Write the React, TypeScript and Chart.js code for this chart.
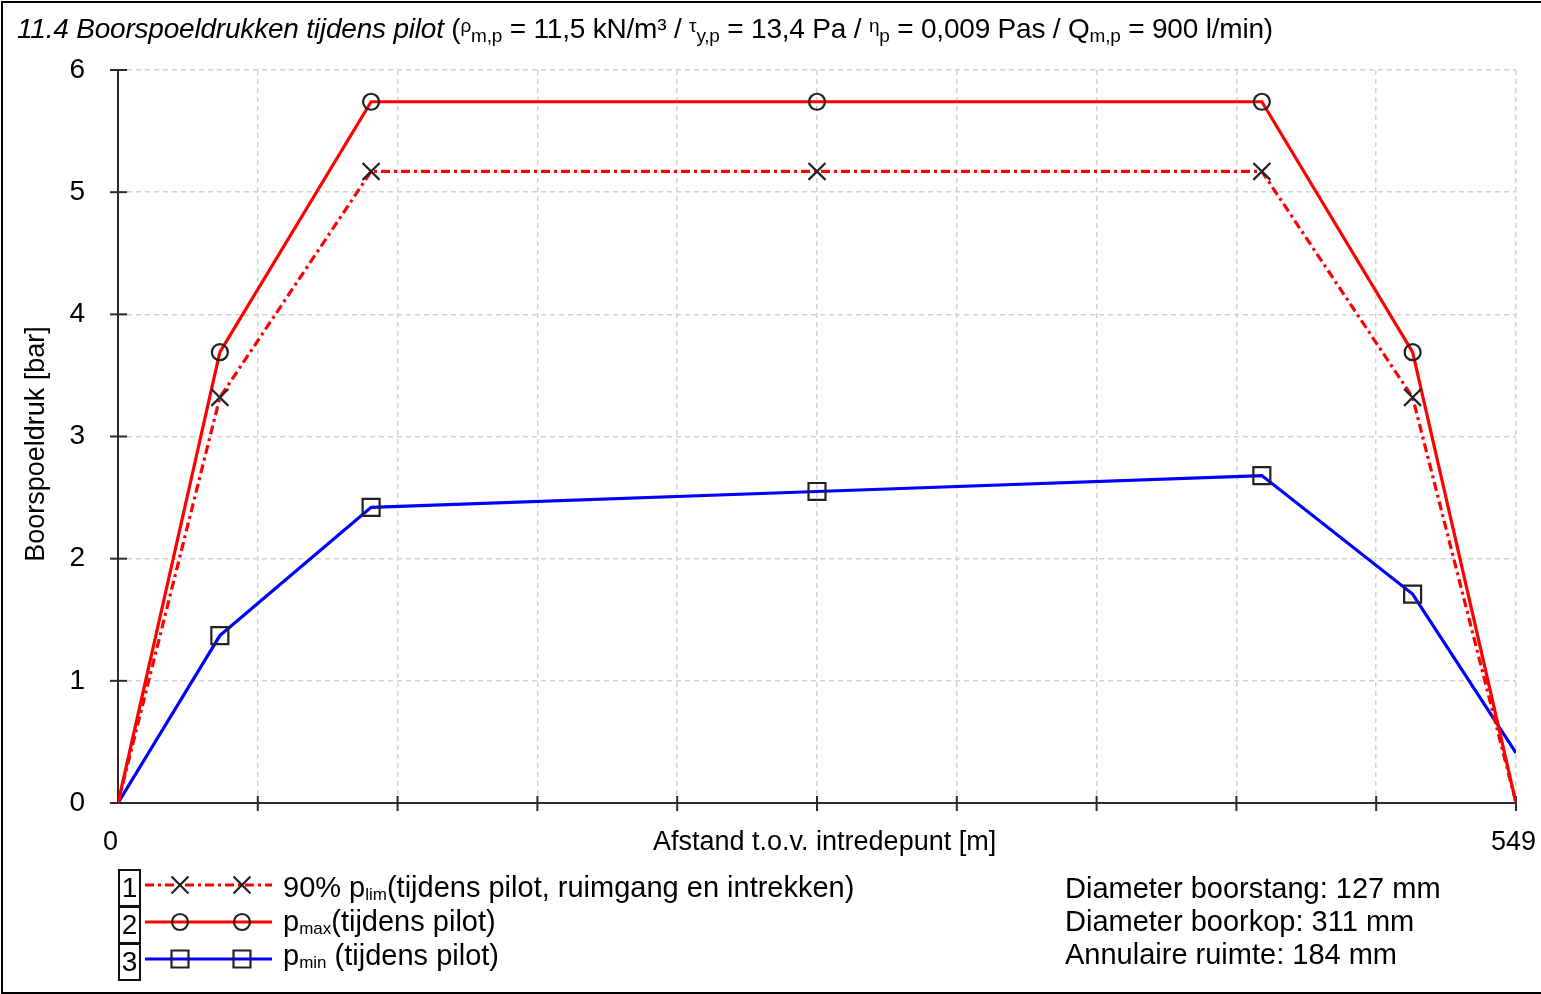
import React, { useEffect, useRef } from 'react';
import { Chart, registerables } from 'chart.js';

Chart.register(...registerables);

// ---- data ----
const distances = [0, 40, 99.4, 274.5, 449.2, 508.4, 549];
const pLim90 = [0, 3.32, 5.17, 5.17, 5.17, 3.32, 0];
const pMax = [0, 3.69, 5.74, 5.74, 5.74, 3.69, 0];
const pMin = [0, 1.37, 2.42, 2.55, 2.68, 1.71, 0.41];
const xMin = 0;
const xMax = 549;
const xGridDivisions = 10;
const yMin = 0;
const yMax = 6;
const xTickLabels = ['0', '549'];
const xAxisTitle = 'Afstand t.o.v. intredepunt [m]';
const yAxisTitle = 'Boorspoeldruk [bar]';
const infoLines = ['Diameter boorstang: 127 mm', 'Diameter boorkop: 311 mm', 'Annulaire ruimte: 184 mm'];

const FONT = '"Liberation Sans", Arial, Helvetica, sans-serif';
const RED = '#ff0000';
const BLUE = '#0000ff';
const MARK = '#222222';
const DASHDOT = [9, 4, 3, 4];

const markerRadii = (r: number) => distances.map((_, i) => (i === 0 || i === distances.length - 1 ? 0 : r));

const legendSamples = [
  { y: 885, color: RED, dash: DASHDOT, style: 'crossRot', r: 12 },
  { y: 922, color: RED, dash: [] as number[], style: 'circle', r: 8 },
  { y: 959, color: BLUE, dash: [] as number[], style: 'rect', r: 12 },
];

const axesPlugin = {
  id: 'customAxes',
  beforeDatasetsDraw(chart: any) {
    const { ctx, chartArea, scales } = chart;
    const x = scales.x;
    const y = scales.y;
    ctx.save();
    ctx.strokeStyle = '#2b2b2b';
    ctx.lineWidth = 2;
    ctx.setLineDash([]);
    ctx.beginPath();
    ctx.moveTo(chartArea.left, y.getPixelForValue(yMax));
    ctx.lineTo(chartArea.left, chartArea.bottom);
    ctx.lineTo(chartArea.right, chartArea.bottom);
    ctx.stroke();
    for (let v = yMin; v <= yMax; v++) {
      const py = y.getPixelForValue(v);
      ctx.beginPath();
      ctx.moveTo(chartArea.left - 8, py);
      ctx.lineTo(chartArea.left + 9, py);
      ctx.stroke();
    }
    for (let i = 1; i <= xGridDivisions; i++) {
      const px = x.getPixelForValue(xMin + (i * (xMax - xMin)) / xGridDivisions);
      ctx.beginPath();
      ctx.moveTo(px, chartArea.bottom - 7);
      ctx.lineTo(px, chartArea.bottom + 8);
      ctx.stroke();
    }
    ctx.restore();
  },
  afterDraw(chart: any) {
    const { ctx } = chart;
    ctx.save();
    legendSamples.forEach((s) => {
      ctx.strokeStyle = s.color;
      ctx.lineWidth = 3.2;
      ctx.setLineDash(s.dash);
      ctx.beginPath();
      ctx.moveTo(145, s.y);
      ctx.lineTo(272, s.y);
      ctx.stroke();
      ctx.setLineDash([]);
      [180, 242].forEach((mx) => {
        ctx.strokeStyle = MARK;
        ctx.lineWidth = 2.2;
        ctx.beginPath();
        if (s.style === 'circle') {
          ctx.arc(mx, s.y, s.r, 0, Math.PI * 2);
        } else if (s.style === 'rect') {
          const h = s.r * Math.SQRT1_2;
          ctx.rect(mx - h, s.y - h, 2 * h, 2 * h);
        } else {
          const h = s.r * Math.SQRT1_2;
          ctx.moveTo(mx - h, s.y - h);
          ctx.lineTo(mx + h, s.y + h);
          ctx.moveTo(mx - h, s.y + h);
          ctx.lineTo(mx + h, s.y - h);
        }
        ctx.stroke();
      });
    });
    ctx.restore();
  },
};

function T({ x, base, size = 27, children, style }: any) {
  return (
    <div
      style={{
        position: 'absolute',
        left: x,
        top: base - 0.8465 * size,
        fontSize: size,
        lineHeight: `${size}px`,
        whiteSpace: 'nowrap',
        color: '#000',
        ...style,
      }}
    >
      {children}
    </div>
  );
}

const sub = (t: string, size = 19, shift = -4) => (
  <span style={{ fontSize: size, verticalAlign: shift }}>{t}</span>
);
const greek = (t: string) => <span style={{ fontSize: 19, verticalAlign: 6 }}>{t}</span>;

export default function App() {
  const canvasRef = useRef<HTMLCanvasElement>(null);

  useEffect(() => {
    document.body.style.margin = '0';
    const canvas = canvasRef.current!;
    const mk = (label: string, vals: number[], color: string, dash: number[], style: string, r: number) => ({
      label,
      data: distances.map((d, i) => ({ x: d, y: vals[i] })),
      borderColor: color,
      borderWidth: 3.2,
      borderDash: dash,
      tension: 0,
      fill: false,
      pointStyle: style,
      pointRadius: markerRadii(r),
      pointBorderColor: MARK,
      pointBorderWidth: 2.2,
      pointBackgroundColor: 'rgba(0,0,0,0)',
      pointHoverRadius: 0,
    });
    const gridCommon = { color: '#d2d2d2', lineWidth: 1.5, drawTicks: false };
    const chart = new Chart(canvas, {
      type: 'line',
      data: {
        datasets: [
          mk('90% plim (tijdens pilot, ruimgang en intrekken)', pLim90, RED, DASHDOT, 'crossRot', 12),
          mk('pmax (tijdens pilot)', pMax, RED, [], 'circle', 8),
          mk('pmin (tijdens pilot)', pMin, BLUE, [], 'rect', 12),
        ],
      },
      options: {
        animation: false,
        responsive: false,
        maintainAspectRatio: false,
        events: [],
        layout: { padding: { top: 70, right: 25, bottom: 0, left: 0 } },
        plugins: { legend: { display: false }, tooltip: { enabled: false }, title: { display: false } },
        scales: {
          x: {
            type: 'linear',
            min: xMin,
            max: xMax,
            afterBuildTicks: (s: any) => {
              s.ticks = Array.from({ length: xGridDivisions + 1 }, (_, i) => ({
                value: xMin + (i * (xMax - xMin)) / xGridDivisions,
              }));
            },
            afterFit: (s: any) => {
              s.height = 191;
            },
            ticks: { display: false },
            grid: gridCommon,
            border: { display: false, dash: [5, 4] },
          },
          y: {
            type: 'linear',
            min: yMin,
            max: yMax,
            afterFit: (s: any) => {
              s.width = 118;
            },
            ticks: { stepSize: 1, padding: 33, color: '#000', font: { family: FONT, size: 28 } },
            grid: gridCommon,
            border: { display: false, dash: [5, 4] },
          },
        },
      } as any,
      plugins: [axesPlugin],
    });
    return () => chart.destroy();
  }, []);

  return (
    <div
      style={{
        position: 'absolute',
        left: 0,
        top: 0,
        width: 1541,
        height: 994,
        background: '#fff',
        fontFamily: FONT,
        overflow: 'hidden',
      }}
    >
      <canvas ref={canvasRef} width={1541} height={994} style={{ position: 'absolute', left: 0, top: 0, width: 1541, height: 994 }} />
      <div
        style={{
          position: 'absolute',
          left: 1,
          top: 1,
          width: 1560,
          height: 993,
          border: '2px solid #000',
          boxSizing: 'border-box',
          pointerEvents: 'none',
        }}
      />
      <T x={17} base={36} size={28} style={{ letterSpacing: -0.2 }}>
        <i>11.4 Boorspoeldrukken tijdens pilot</i> ({greek('ρ')}
        {sub('m,p')} = 11,5 kN/m³ / {greek('τ')}
        {sub('y,p')} = 13,4 Pa / {greek('η')}
        {sub('p')} = 0,009 Pas / Q{sub('m,p')} = 900 l/min)
      </T>
      <T x={103} base={851} size={27}>{xTickLabels[0]}</T>
      <T x={1491} base={851} size={27}>{xTickLabels[1]}</T>
      <T x={653} base={851} size={27}>{xAxisTitle}</T>
      <div
        style={{
          position: 'absolute',
          left: 35 - 200,
          top: 444 - 14,
          width: 400,
          height: 28,
          lineHeight: '28px',
          fontSize: 27,
          textAlign: 'center',
          transform: 'rotate(-90deg)',
          whiteSpace: 'nowrap',
        }}
      >
        {yAxisTitle}
      </div>
      {[
        { top: 869, n: '1' },
        { top: 906, n: '2' },
        { top: 943, n: '3' },
      ].map((b) => (
        <div
          key={b.n}
          style={{
            position: 'absolute',
            left: 118,
            top: b.top,
            width: 23,
            height: 38,
            border: '2px solid #111',
            boxSizing: 'border-box',
            fontSize: 28,
            lineHeight: '34px',
            textAlign: 'center',
          }}
        >
          {b.n}
        </div>
      ))}
      <T x={283} base={898} size={29}>
        90% p{sub('lim', 17, -3)}(tijdens pilot, ruimgang en intrekken)
      </T>
      <T x={283} base={932} size={29}>
        p{sub('max', 17, -3)}(tijdens pilot)
      </T>
      <T x={283} base={966} size={29}>
        p{sub('min', 17, -3)} (tijdens pilot)
      </T>
      {infoLines.map((t, i) => (
        <T key={i} x={1065} base={899 + i * 33} size={29}>
          {t}
        </T>
      ))}
    </div>
  );
}
